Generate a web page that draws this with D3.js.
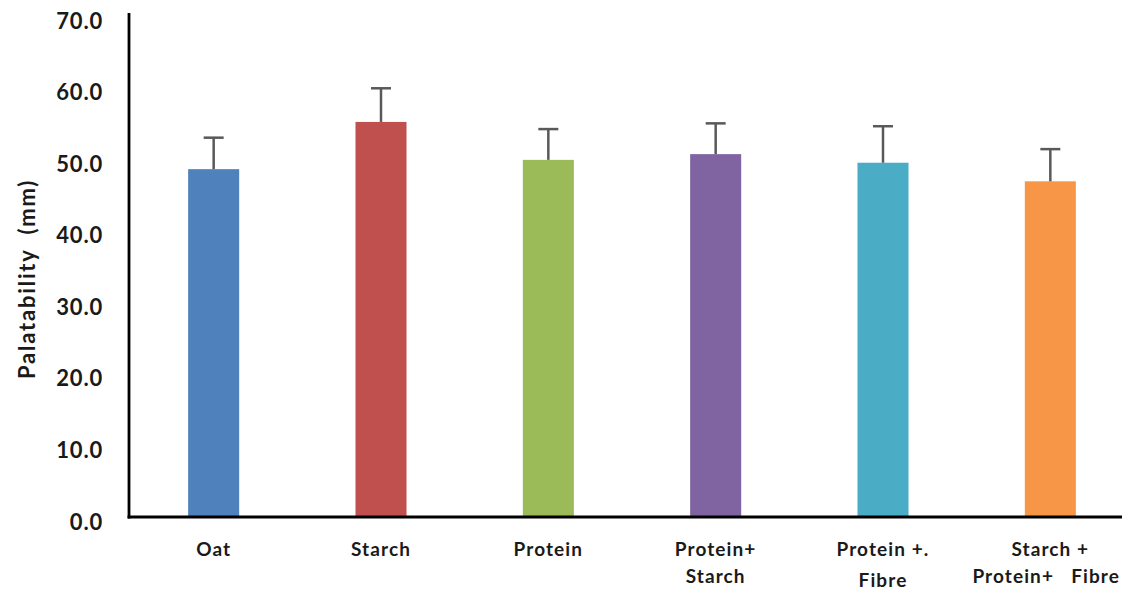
<!DOCTYPE html>
<html><head><meta charset="utf-8">
<script src="https://cdn.jsdelivr.net/npm/d3@7"></script>
<style>
html,body{margin:0;padding:0;background:#fff;}
svg{display:block;}
text{font-family:Lato,"Liberation Sans",sans-serif;font-weight:bold;fill:#1a1a1a;white-space:pre;}
</style></head>
<body>
<svg id="c" width="1122" height="592"></svg>
<script>
const categories = ["Oat","Starch","Protein","Protein+ Starch","Protein +. Fibre","Starch + Protein+ Fibre"];
const labelLines = [["Oat"],["Starch"],["Protein"],["Protein+","Starch"],["Protein +.","Fibre"],["Starch +","Protein+   Fibre"]];
const means = [48.6, 55.2, 49.9, 50.7, 49.5, 46.9];
const errors = [4.4, 4.7, 4.3, 4.3, 5.1, 4.5];
const colors = ["#4F81BD","#C0504D","#9BBB59","#8064A2","#4BACC6","#F79646"];
const yTicks = [0,10,20,30,40,50,60,70];

const svg = d3.select("#c");
const x0 = 129, y0 = 517, yTop = 16;
const x = d3.scaleBand().domain(categories).range([130, 1134]).paddingInner(0.695).paddingOuter(0.3475);
const y = d3.scaleLinear().domain([0,70]).range([y0, yTop]);

// bars
svg.selectAll("rect.bar").data(categories).join("rect")
  .attr("x", d => x(d)).attr("width", x.bandwidth())
  .attr("y", (d,i) => y(means[i])).attr("height", (d,i) => y0 - y(means[i]))
  .attr("fill", (d,i) => colors[i]);

// error bars
const eb = svg.append("g").attr("stroke","#595959").attr("stroke-width",2.5);
categories.forEach((d,i) => {
  const cx = x(d) + x.bandwidth()/2;
  eb.append("line").attr("x1",cx).attr("x2",cx).attr("y1",y(means[i])).attr("y2",y(means[i]+errors[i]));
  eb.append("line").attr("x1",cx-10).attr("x2",cx+10).attr("y1",y(means[i]+errors[i])).attr("y2",y(means[i]+errors[i]));
});

// y axis
const yAxis = d3.axisLeft(y).tickValues(yTicks).tickFormat(d3.format(".1f")).tickSize(0).tickPadding(26);
const gy = svg.append("g").attr("transform",`translate(${x0},0)`).call(yAxis);
gy.select(".domain").remove();
gy.selectAll("text").style("font-size","22px").style("letter-spacing","0.8px").attr("dy","0.55em").style("fill","#1a1a1a");

svg.append("line").attr("x1",x0).attr("x2",x0).attr("y1",13).attr("y2",y0+1.5)
  .attr("stroke","#000").attr("stroke-width",2.8);
// x axis
svg.append("line").attr("x1",x0-1.4).attr("x2",1122).attr("y1",y0).attr("y2",y0)
  .attr("stroke","#000").attr("stroke-width",2.8);

// x labels
const extra = [0,0,0,0,4,0];
categories.forEach((d,i) => {
  const cx = x(d) + x.bandwidth()/2;
  labelLines[i].forEach((t,j) => {
    const tt = svg.append("text").attr("y",556 + j*27 + (j>0?extra[i]:0))
      .style("font-size","19px").style("letter-spacing","1.1px").text(t);
    const w = tt.node().getComputedTextLength();
    let left = cx - w/2;
    if (left + w > 1120) left = 1120 - w;
    tt.attr("x", left);
  });
});

// y title
svg.append("text").attr("transform","translate(35,279) rotate(-90)")
  .attr("text-anchor","middle").style("font-size","22px").style("letter-spacing","1.8px").text("Palatability  (mm)");
</script>
</body></html>
